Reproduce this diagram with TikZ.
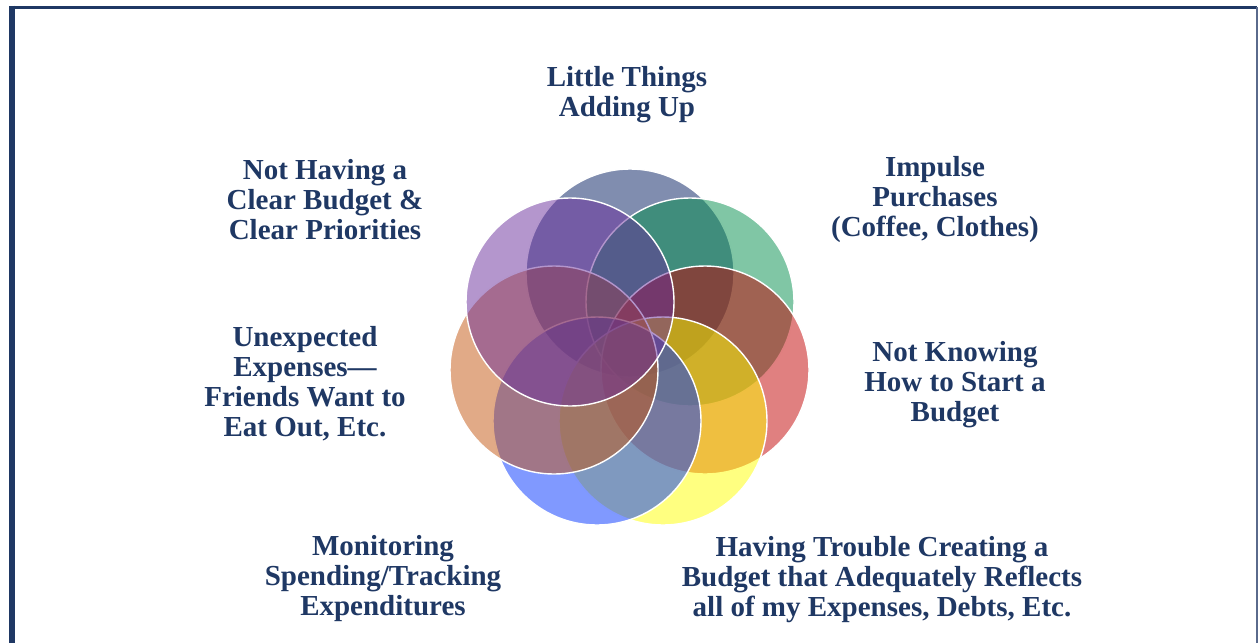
\documentclass[tikz,border=0pt]{standalone}
\usepackage{fontspec}
\setmainfont{Liberation Serif}
\definecolor{navy}{RGB}{31,56,100}
\definecolor{frameblue}{RGB}{31,56,100}
\definecolor{frameright}{RGB}{90,106,140}
\definecolor{cslate}{RGB}{1,27,95}
\definecolor{cgreen}{RGB}{1,141,75}
\definecolor{cred}{RGB}{193,1,1}
\definecolor{cyellow}{RGB}{255,255,1}
\definecolor{cblue}{RGB}{1,51,255}
\definecolor{corange}{RGB}{195,85,15}
\definecolor{cpurple}{RGB}{105,45,155}
\tikzset{
  circ/.style={circle, minimum size=208pt, inner sep=0pt, draw=white, line width=1.4pt, fill opacity=0.5, draw opacity=1},
  lbl/.style={align=center, inner sep=0pt, text=navy, font=\fontsize{29}{30}\selectfont\bfseries},
}
\begin{document}
\begin{tikzpicture}[x=1pt, y=-1pt]
\useasboundingbox (0,0) rectangle (1258,643);
% frame
\draw[frameblue, line width=3pt] (9,7) -- (1257,7);
\draw[frameblue, line width=5.5pt] (12,5.5) -- (12,643);
\draw[frameright, line width=1.3pt] (1257,7) -- (1257,643);
% circles
\node[circ, fill=cslate] (c1) at (630,273) {};
\node[circ, fill=cgreen] (c2) at (690,302) {};
\node[circ, fill=cred] (c3) at (705,370) {};
\node[circ, fill=cyellow] (c4) at (663,421) {};
\node[circ, fill=cblue] (c5) at (597,421) {};
\node[circ, fill=corange] (c6) at (554,370) {};
\node[circ, fill=cpurple] (c7) at (570,302) {};
% labels
\node[lbl] (t1) at (627,95) {Little Things\\Adding Up};
\node[lbl] (t2) at (935,200) {Impulse\\Purchases\\(Coffee, Clothes)};
\node[lbl] (t3) at (955,385) {Not Knowing\\How to Start a\\Budget};
\node[lbl] (t4) at (882,580) {Having Trouble Creating a\\Budget that Adequately Reflects\\all of my Expenses, Debts, Etc.};
\node[lbl] (t5) at (383,579) {Monitoring\\Spending/Tracking\\Expenditures};
\node[lbl] (t6) at (305,384) {Unexpected\\Expenses—\\Friends Want to\\Eat Out, Etc.};
\node[lbl] (t7) at (325,200) {Not Having a\\Clear Budget \&\\Clear Priorities};
\end{tikzpicture}
\end{document}
